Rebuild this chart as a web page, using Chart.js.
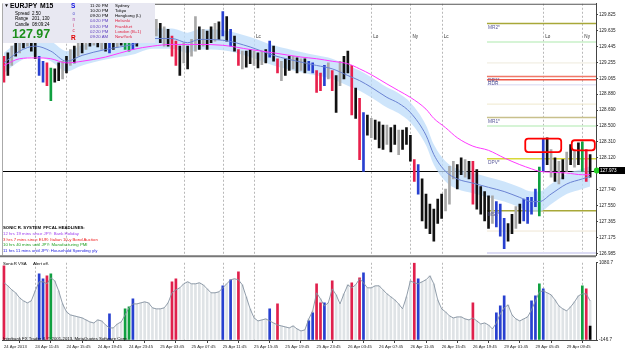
<!DOCTYPE html>
<html>
<head>
<meta charset="utf-8">
<script src="https://cdn.jsdelivr.net/npm/chart.js@4.4.1/dist/chart.umd.min.js"></script>
<style>
  body { margin: 0; background: #fff; }
  #wrap { position: relative; width: 625px; height: 352px; overflow: hidden; font-family: 'Liberation Sans', Arial, sans-serif; }
  canvas { position: absolute; left: 0; }
  #main { top: 0; }
  #vsa { top: 259px; }
  .t { position: absolute; white-space: nowrap; line-height: 1; }
  #panel { position: absolute; left: 3px; top: 3px; width: 152px; height: 40px; background: #e8e8f2; }
</style>
</head>
<body>
<div id="wrap">
  <canvas id="main" width="625" height="259"></canvas>
  <canvas id="vsa" width="625" height="93"></canvas>

  <div id="panel"></div>
  <span class="t" style="left:4px;top:3px;font-size:5px">▼</span>
  <span class="t" style="left:10px;top:3px;font-size:6.8px;font-weight:bold">EURJPY</span>
  <span class="t" style="left:40px;top:3px;font-size:6.8px;font-weight:bold">M15</span>
  <span class="t" style="left:15px;top:11.7px;font-size:4.5px">Spread</span>
  <span class="t" style="left:32px;top:11.7px;font-size:4.5px">2.50</span>
  <span class="t" style="left:15px;top:17.2px;font-size:4.5px">Range</span>
  <span class="t" style="left:32px;top:17.2px;font-size:4.5px">201, 130</span>
  <span class="t" style="left:15px;top:22.7px;font-size:4.5px">Candle</span>
  <span class="t" style="left:32px;top:22.7px;font-size:4.5px">08:09:24</span>
  <span class="t" style="left:12px;top:28px;font-size:12.5px;font-weight:bold;color:#1b8f1b">127.97</span>

  <span class="t" style="left:71px;top:3px;font-size:6.5px;font-weight:bold;color:#1010e0">S</span>
  <span class="t" style="left:72.5px;top:12.2px;font-size:4.5px;color:#5050d0">o</span>
  <span class="t" style="left:72.5px;top:17.8px;font-size:4.5px;color:#a040a0">n</span>
  <span class="t" style="left:73px;top:23.8px;font-size:4.5px;color:#d03060">i</span>
  <span class="t" style="left:72.5px;top:28.8px;font-size:4.5px;color:#e03050">c</span>
  <span class="t" style="left:71px;top:35px;font-size:6.5px;font-weight:bold;color:#e00000">R</span>

  <span class="t" style="left:90px;top:3.5px;font-size:4.3px">11:20 PM</span>
  <span class="t" style="left:115px;top:3.5px;font-size:4.3px">Sydney</span>
  <span class="t" style="left:90px;top:8.5px;font-size:4.3px">10:20 PM</span>
  <span class="t" style="left:115px;top:8.5px;font-size:4.3px">Tokyo</span>
  <span class="t" style="left:90px;top:13.5px;font-size:4.3px">09:20 PM</span>
  <span class="t" style="left:115px;top:13.5px;font-size:4.3px">Hongkong (L)</span>
  <span class="t" style="left:90px;top:19.1px;font-size:4.3px;color:#6040c0">04:20 PM</span>
  <span class="t" style="left:115px;top:19.1px;font-size:4.3px;color:#e02040">Helsinki</span>
  <span class="t" style="left:90px;top:24.5px;font-size:4.3px;color:#6040c0">03:20 PM</span>
  <span class="t" style="left:115px;top:24.5px;font-size:4.3px;color:#e02040">Frankfurt</span>
  <span class="t" style="left:90px;top:29.8px;font-size:4.3px;color:#6040c0">02:20 PM</span>
  <span class="t" style="left:115px;top:29.8px;font-size:4.3px;color:#e02040">London (B+1)</span>
  <span class="t" style="left:90px;top:35.1px;font-size:4.3px;color:#6040c0">09:20 AM</span>
  <span class="t" style="left:115px;top:35.1px;font-size:4.3px;color:#e02040">NewYork</span>

  <span class="t" style="left:3px;top:225.8px;font-size:4.3px;font-weight:bold">SONIC R. SYSTEM&nbsp; FFCAL HEADLINES:</span>
  <span class="t" style="left:3px;top:231.8px;font-size:4.3px;color:#a040f0">12 hrs 19 mins since JPY: Bank Holiday</span>
  <span class="t" style="left:3px;top:237.5px;font-size:4.3px;color:#f02020">3 hrs 7 mins since EUR: Italian 10-y Bond Auction</span>
  <span class="t" style="left:3px;top:243.1px;font-size:4.3px;color:#20a020">10 hrs 40 mins until JPY: Manufacturing PMI</span>
  <span class="t" style="left:3px;top:248.5px;font-size:4.3px;color:#2020e0">11 hrs 11 mins until JPY: Household Spending y/y</span>

  <span class="t" style="left:3px;top:261.8px;font-size:4.3px">SonicR VSA</span>
  <span class="t" style="left:33px;top:261.8px;font-size:4.3px">Alert off.</span>
  <span class="t" style="left:3px;top:337.3px;font-size:4.3px">Interbank FX Trader 4, © 2001-2013, MetaQuotes Software Corp.</span>
</div>

<script>
// M15 chart, one bar per 30 min, index 0 = 24 Apr 07:45
const tickIdx = [0, 8, 16, 24, 32, 40, 48, 56, 64, 72, 80, 88, 96, 104, 112, 120, 128, 136, 144];
const tickText = ['24 Apr 2013', '24 Apr 11:45', '24 Apr 15:45', '24 Apr 19:45', '24 Apr 23:45',
  '25 Apr 03:45', '25 Apr 07:45', '25 Apr 11:45', '25 Apr 15:45', '25 Apr 19:45', '25 Apr 23:45',
  '26 Apr 03:45', '26 Apr 07:45', '26 Apr 11:45', '26 Apr 15:45', '26 Apr 19:45',
  '29 Apr 01:45', '29 Apr 05:45', '29 Apr 09:45'];
const priceTicks = [129.825, 129.635, 129.445, 129.255, 129.065, 128.880, 128.690, 128.500,
  128.310, 128.120, 127.740, 127.550, 127.365, 127.175, 126.985];
const volTicks = [1080.7, -146.7];

const barLow = [
  129.02,129.10,129.22,129.33,129.37,129.43,129.45,129.39,129.30,129.10,
  129.02,128.98,128.80,129.02,129.04,129.06,129.13,129.22,129.25,129.33,
  129.37,129.41,129.45,129.46,129.44,129.41,129.39,129.37,129.41,129.44,
  129.46,129.41,129.39,129.41,129.45,129.49,129.51,129.53,129.51,129.57,
  129.49,129.45,129.45,129.33,129.22,129.10,129.25,129.18,129.33,129.39,
  129.41,129.45,129.41,129.49,129.51,129.53,129.57,129.51,129.45,129.39,
  129.22,129.18,129.20,129.24,129.22,129.19,129.23,129.25,129.32,129.27,
  129.13,129.04,129.10,129.16,129.18,129.13,129.16,129.13,129.16,129.13,
  128.90,128.92,128.98,129.06,128.92,128.66,128.98,129.06,129.13,128.63,
  128.59,128.10,127.96,128.39,128.36,128.34,128.24,128.22,128.28,128.19,
  128.28,128.16,128.22,128.28,128.08,127.84,127.69,127.37,127.28,127.22,
  127.13,127.34,127.40,127.49,127.57,127.87,127.75,127.92,127.89,127.87,
  127.57,127.51,127.45,127.37,127.28,127.34,127.30,127.19,127.04,127.13,
  127.22,127.28,127.34,127.37,127.34,127.45,127.54,127.43,127.96,128.04,
  127.89,127.84,127.81,127.87,127.96,128.04,128.01,128.04,127.96,127.84,
  127.89];
const barHigh = [
  129.33,129.37,129.45,129.51,129.53,129.60,129.63,129.59,129.53,129.33,
  129.27,129.25,129.19,129.18,129.25,129.27,129.33,129.41,129.45,129.51,
  129.57,129.59,129.63,129.63,129.60,129.57,129.53,129.51,129.56,129.59,
  129.63,129.57,129.53,129.56,129.63,129.65,129.68,129.72,129.74,129.77,
  129.72,129.68,129.65,129.57,129.51,129.45,129.49,129.45,129.53,129.80,
  129.68,129.65,129.63,129.68,129.72,129.74,129.86,129.80,129.65,129.57,
  129.41,129.39,129.39,129.41,129.39,129.37,129.39,129.41,129.51,129.45,
  129.30,129.27,129.30,129.33,129.33,129.31,129.30,129.30,129.27,129.25,
  129.16,129.13,129.22,129.25,129.16,129.10,129.27,129.33,129.39,129.22,
  128.95,128.83,128.66,128.63,128.59,128.57,128.55,128.51,128.51,128.48,
  128.51,128.45,128.45,128.48,128.39,128.10,128.04,127.87,127.69,127.57,
  127.51,127.63,127.69,127.75,128.02,128.08,128.04,128.12,128.10,128.08,
  128.08,127.98,127.78,127.72,127.67,127.67,127.60,127.57,127.40,127.34,
  127.45,127.54,127.57,127.63,127.65,127.65,127.75,128.01,128.34,128.36,
  128.22,128.12,128.08,128.10,128.19,128.28,128.22,128.30,128.31,128.22,
  128.16];
// k black, g grey, r red, b blue, G green
const barType = 'rkgkgkgkkb' + 'brGkkgkgkg' + 'kgkgkgkbkg' + 'kGGbkgkgkg' + 'kgkrrkgkgg' +
  'kgkkgkbkbk' + 'rgkkgkgkbk' + 'rgkkgkgkbb' + 'rrbgrkgkkr' + 'krbkgkkkgk' +
  'kgkkkrbkkk' + 'kkkgggkkgk' + 'rkkkkgbbbk' + 'kgkbbbbGbk' + 'gkgkgkgkGrk';

// moving averages, read at these bar indices
const maIdx = [0,4,8,12,16,20,26,33,38,43,47,50,56,63,69,76,80,84,88,91,94,98,101,104,108,110,113,116,120,124,128,132,135,137,140,144,148,150];
const emaMid = [129.25,129.39,129.45,129.39,129.27,129.34,129.41,129.47,129.54,129.54,129.49,129.53,129.52,129.44,129.34,129.26,129.22,129.18,129.10,129.04,128.96,128.84,128.77,128.66,128.39,128.16,127.96,127.87,127.82,127.77,127.72,127.65,127.60,127.60,127.69,127.81,127.87,127.90];
const emaHigh = [129.37,129.51,129.57,129.51,129.39,129.46,129.53,129.59,129.66,129.66,129.61,129.65,129.64,129.56,129.46,129.38,129.34,129.30,129.22,129.16,129.08,128.96,128.89,128.78,128.51,128.28,128.08,127.99,127.94,127.89,127.84,127.77,127.72,127.72,127.81,127.93,127.99,128.02];
const emaLow = [129.13,129.27,129.33,129.27,129.15,129.22,129.29,129.35,129.42,129.42,129.37,129.41,129.40,129.32,129.22,129.14,129.10,129.06,128.98,128.92,128.84,128.72,128.65,128.54,128.27,128.04,127.84,127.75,127.70,127.65,127.60,127.53,127.48,127.48,127.57,127.69,127.75,127.78];
const emaSlow = [129.22,129.30,129.31,129.30,129.25,129.27,129.32,129.41,129.45,129.47,129.47,129.47,129.46,129.41,129.37,129.32,129.30,129.27,129.24,129.18,129.11,129.00,128.92,128.84,128.70,128.59,128.48,128.36,128.26,128.21,128.12,128.04,127.99,127.96,127.95,127.94,127.92,127.92];

// pivot levels of 29 Apr
const levelStart = 123.6;
const levelPrice = [129.72, 129.50, 129.25, 129.09, 129.05, 128.99, 128.76, 128.60, 128.50, 128.11, 127.49, 127.25, 126.99];
const levelColor = ['#a8a838', '#c8f0c8', '#eeeadc', '#f07868', '#f05848', '#e4e4f6', '#efe8cc', '#c8c08c', '#c8f0c8', '#d8d838', '#a8a838', '#efe6d4', '#dcdcf4'];
const levelWidth = [1.5, 1.5, 1, 1.5, 1.5, 1.5, 1, 1.5, 1.5, 1.5, 1.5, 1, 2];
const tagPrice = [129.72, 129.09, 129.05, 128.60, 128.11, 127.49];
const tagText = ['MR2*', 'DR1*', 'RDR', 'MR1*', 'DPV*', 'MS1*'];

const sessionIdx = [8, 16, 46, 56, 64, 94, 104, 112, 138, 148];
const sessionTagIdx = [64, 94, 104, 112, 138, 148];
const sessionTag = ['Lc', 'Lo', 'Ny', 'Lc', 'Lo', 'Ny'];

const boxIdx = [[133.4, 142.6], [145.3, 151.2]];
const boxPrice = [[128.35, 128.19], [128.33, 128.21]];
const lastPrice = 127.97;
const lastText = '127.973';

// volume pane
const volLine = [
  762,714,650,603,523,475,443,475,634,778,
  778,746,842,794,634,427,300,252,236,220,
  204,172,140,124,172,156,92,45,45,108,
  140,252,364,427,427,443,459,443,364,348,
  348,364,443,603,650,682,746,778,746,746,
  762,730,666,603,603,618,682,746,810,826,
  810,730,539,348,204,156,172,188,156,124,
  92,77,61,45,77,29,-3,13,188,316,
  603,507,395,443,666,571,427,587,730,682,
  730,826,762,682,682,714,714,650,587,539,
  491,427,348,539,794,762,746,778,810,873,
  746,491,348,300,236,204,220,220,188,172,
  204,156,108,124,92,29,124,268,364,411,
  252,188,156,188,220,332,475,618,634,603,
  571,491,395,348,316,379,459,555,587,587,
  475];
const spikeIdx = [0,9,10,11,12,27,31,32,33,43,44,56,58,60,68,70,78,79,80,81,82,84,89,91,92,105,106,120,126,127,128,135,136,137,138,148,149,150];
const spikeVol = [1033,905,826,873,905,268,348,379,507,778,826,714,810,937,348,427,156,284,746,443,443,794,762,842,921,1080,826,443,284,395,555,475,555,746,666,714,666,76];
const spikeType = 'rbbrGbGGbrrbbrbrbbrrbrrrbrbrbbbbbGbGrk';

const priceColor = { k: '#111111', g: '#a8a8a8', r: '#e8204c', b: '#2840d0', G: '#10a040' };
const volColor = { k: '#000000', r: '#e0204c', b: '#2840d0', G: '#10a040' };
const tinyFont = { family: "'Liberation Sans', Arial, sans-serif", size: 4.6 };

const xMin = -0.5, xMax = 151.5;
const fixY = s => { s.width = 29; };

function sessionLines(chart) {
  const { ctx, chartArea: a, scales: { x } } = chart;
  ctx.save();
  ctx.strokeStyle = '#b8b8b8';
  ctx.lineWidth = 1;
  ctx.setLineDash([2, 2]);
  sessionIdx.forEach(i => {
    const sx = Math.round(x.getPixelForValue(i)) + 0.5;
    ctx.beginPath(); ctx.moveTo(sx, a.top); ctx.lineTo(sx, a.bottom); ctx.stroke();
  });
  ctx.restore();
}

const mainDecor = {
  id: 'mainDecor',
  beforeDatasetsDraw(chart) {
    const { ctx, chartArea: a, scales: { x, y } } = chart;
    sessionLines(chart);
    ctx.save();
    const x0 = x.getPixelForValue(levelStart);
    levelPrice.forEach((p, k) => {
      const ly = y.getPixelForValue(p);
      ctx.strokeStyle = levelColor[k];
      ctx.lineWidth = levelWidth[k];
      ctx.beginPath(); ctx.moveTo(x0, ly); ctx.lineTo(a.right, ly); ctx.stroke();
    });
    const cy = Math.round(y.getPixelForValue(lastPrice)) + 0.5;
    ctx.strokeStyle = '#000';
    ctx.lineWidth = 1;
    ctx.beginPath(); ctx.moveTo(a.left, cy); ctx.lineTo(a.right, cy); ctx.stroke();
    ctx.restore();
  },
  afterDatasetsDraw(chart) {
    const { ctx, chartArea: a, scales: { x, y } } = chart;
    ctx.save();
    ctx.font = "4.6px 'Liberation Sans', Arial";
    ctx.textBaseline = 'middle';
    ctx.fillStyle = '#333';
    sessionTagIdx.forEach((i, k) => {
      ctx.fillText(sessionTag[k], x.getPixelForValue(i) + 2, 37);
    });
    ctx.font = "4.8px 'Liberation Sans', Arial";
    ctx.textBaseline = 'top';
    ctx.fillStyle = '#5b5b9b';
    const x0 = x.getPixelForValue(levelStart);
    tagPrice.forEach((p, k) => {
      ctx.fillText(tagText[k], x0 + 1, y.getPixelForValue(p) + 1.5);
    });
    ctx.strokeStyle = '#ff0000';
    ctx.lineWidth = 1.8;
    boxIdx.forEach((b, k) => {
      const l = x.getPixelForValue(b[0]), r = x.getPixelForValue(b[1]);
      const t = y.getPixelForValue(boxPrice[k][0]), btm = y.getPixelForValue(boxPrice[k][1]);
      ctx.beginPath(); ctx.roundRect(l, t, r - l, btm - t, 3); ctx.stroke();
    });
    const cy = y.getPixelForValue(lastPrice);
    ctx.fillStyle = '#22cc22';
    ctx.beginPath(); ctx.arc(x.getPixelForValue(151.7), cy, 3, 0, Math.PI * 2); ctx.fill();
    ctx.fillStyle = '#000';
    ctx.fillRect(599, cy - 3.5, 26, 7);
    ctx.fillStyle = '#fff';
    ctx.font = "4.6px 'Liberation Sans', Arial";
    ctx.textBaseline = 'middle';
    ctx.fillText(lastText, 600, cy);
    // pane frame
    ctx.strokeStyle = '#555';
    ctx.lineWidth = 1;
    ctx.beginPath(); ctx.moveTo(a.left, a.top + 0.5); ctx.lineTo(a.right, a.top + 0.5); ctx.stroke();
    ctx.strokeStyle = '#aaa';
    ctx.beginPath(); ctx.moveTo(a.left + 0.5, a.top); ctx.lineTo(a.left + 0.5, a.bottom); ctx.stroke();
    ctx.strokeStyle = '#777';
    ctx.lineWidth = 2;
    ctx.beginPath(); ctx.moveTo(0, a.bottom + 1); ctx.lineTo(a.right, a.bottom + 1); ctx.stroke();
    ctx.restore();
  }
};

const pts = (idx, vals) => idx.map((i, k) => ({ x: i, y: vals[k] }));

new Chart(document.getElementById('main').getContext('2d'), {
  type: 'bar',
  data: {
    datasets: [
      {
        type: 'bar', order: 3, grouped: false,
        data: barLow.map((lo, i) => ({ x: i, y: [lo, barHigh[i]] })),
        backgroundColor: barType.split('').map(c => priceColor[c]),
        barThickness: 2
      },
      {
        type: 'line', order: 5, data: pts(maIdx, emaHigh), fill: '+1',
        borderWidth: 0, pointRadius: 0, backgroundColor: 'rgba(190,220,250,0.75)',
        cubicInterpolationMode: 'monotone'
      },
      {
        type: 'line', order: 5, data: pts(maIdx, emaLow), fill: false,
        borderWidth: 0, pointRadius: 0, cubicInterpolationMode: 'monotone'
      },
      {
        type: 'line', order: 2, data: pts(maIdx, emaMid), borderColor: '#6a82d2',
        borderWidth: 1, pointRadius: 0, cubicInterpolationMode: 'monotone'
      },
      {
        type: 'line', order: 1, data: pts(maIdx, emaSlow), borderColor: '#ff38ff',
        borderWidth: 1, pointRadius: 0, cubicInterpolationMode: 'monotone'
      }
    ]
  },
  options: {
    responsive: false,
    animation: false,
    devicePixelRatio: 1,
    layout: { padding: { left: 2, top: 2, bottom: 2, right: 0 } },
    plugins: { legend: { display: false }, tooltip: { enabled: false } },
    scales: {
      x: { type: 'linear', min: xMin, max: xMax, offset: false, display: false },
      y: {
        position: 'right', min: 126.962, max: 129.954,
        afterBuildTicks: s => { s.ticks = priceTicks.map(v => ({ value: v })); },
        afterFit: fixY,
        ticks: { autoSkip: false, font: tinyFont, color: '#222', padding: 1, callback: v => v.toFixed(3) },
        grid: { drawOnChartArea: false, tickLength: 2, color: '#444' },
        border: { display: true, color: '#444' }
      }
    }
  },
  plugins: [mainDecor]
});

const vsaDecor = {
  id: 'vsaDecor',
  beforeDatasetsDraw(chart) { sessionLines(chart); }
};

new Chart(document.getElementById('vsa').getContext('2d'), {
  type: 'bar',
  data: {
    datasets: [
      {
        type: 'line', order: 1, data: volLine.map((v, i) => ({ x: i, y: v })),
        borderColor: '#8492a0', borderWidth: 0.9, pointRadius: 0
      },
      {
        type: 'bar', order: 2, grouped: false, base: -146.7,
        data: pts(spikeIdx, spikeVol),
        backgroundColor: spikeType.split('').map(c => volColor[c]),
        barThickness: 2
      },
      {
        type: 'bar', order: 3, grouped: false, base: -146.7,
        data: volLine.map((v, i) => ({ x: i, y: v })),
        backgroundColor: '#dfe3e6', barThickness: 2
      }
    ]
  },
  options: {
    responsive: false,
    animation: false,
    devicePixelRatio: 1,
    layout: { padding: { left: 2, top: 3, bottom: 0, right: 0 } },
    plugins: { legend: { display: false }, tooltip: { enabled: false } },
    scales: {
      x: {
        type: 'linear', min: xMin, max: xMax, offset: false,
        afterBuildTicks: s => { s.ticks = tickIdx.map(v => ({ value: v })); },
        afterFit: s => { s.height = 12; },
        ticks: {
          autoSkip: false, maxRotation: 0, align: 'start', padding: 1,
          font: { family: "'Liberation Sans', Arial, sans-serif", size: 4.2 }, color: '#222',
          callback: v => tickText[tickIdx.indexOf(v)] ?? ''
        },
        grid: { drawOnChartArea: false, tickLength: 3, color: '#444' },
        border: { display: true, color: '#444' }
      },
      y: {
        position: 'right', min: -146.7, max: 1080.7,
        afterBuildTicks: s => { s.ticks = volTicks.map(v => ({ value: v })); },
        afterFit: fixY,
        ticks: { autoSkip: false, font: tinyFont, color: '#222', padding: 1, callback: v => v.toFixed(1) },
        grid: { drawOnChartArea: false, tickLength: 2, color: '#444' },
        border: { display: true, color: '#444' }
      }
    }
  },
  plugins: [vsaDecor]
});
</script>
</body>
</html>
